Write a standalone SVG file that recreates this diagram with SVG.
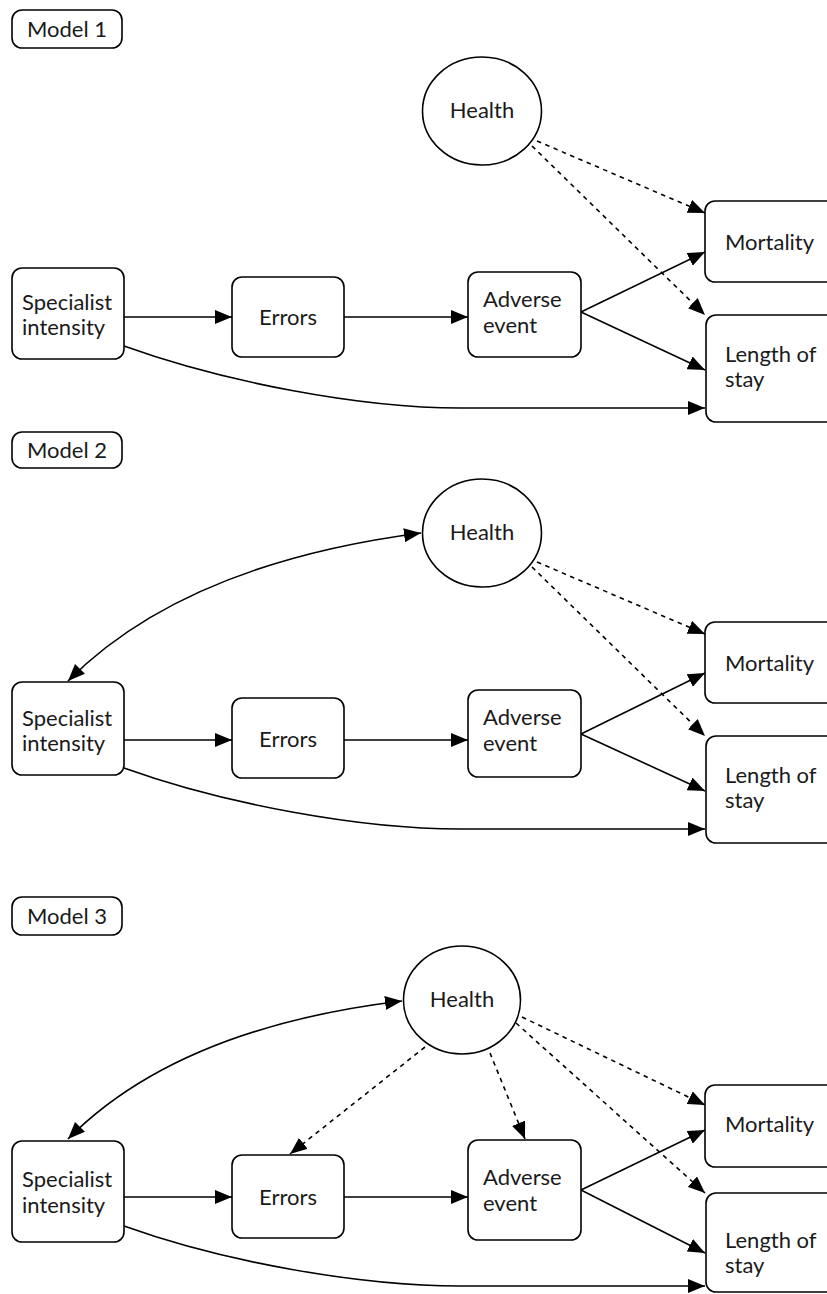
<svg xmlns="http://www.w3.org/2000/svg" width="827" height="1294" viewBox="0 0 827 1294">
<defs>
<style>
.node rect, .node ellipse { fill: #ffffff; stroke: #000000; stroke-width: 1.6; }
.node text, .label text { font-family: Lato, "Liberation Sans", sans-serif; font-size: 22px; fill: #1a1a1a; }
.mid { text-anchor: middle; }
.edge { fill: none; stroke: #000000; stroke-width: 1.6; }
.dash { stroke-dasharray: 4.5 4.5; }
.label rect { fill: #ffffff; stroke: #000000; stroke-width: 1.6; }
</style>
<marker id="arr" viewBox="0 0 17 14" refX="17" refY="7" markerWidth="17" markerHeight="14" markerUnits="userSpaceOnUse" orient="auto-start-reverse">
<path d="M0,0 L17,7 L0,14 Z" fill="#000000" stroke="none"/>
</marker>
</defs>

<!-- Model 1 -->
<g id="label-model1" class="label"><rect x="12" y="10" width="110" height="38" rx="10"/><text x="67" y="37" text-anchor="middle">Model 1</text></g>
<g id="connectors-m1">
<path class="edge" d="M124,317 L232,317" marker-end="url(#arr)"/>
<path class="edge" d="M344,317 L468,317" marker-end="url(#arr)"/>
<path class="edge" d="M581,312 L705,252" marker-end="url(#arr)"/>
<path class="edge" d="M581,312 L705,370" marker-end="url(#arr)"/>
<path class="edge" d="M124,346 C224,382 360,408 460,408 L705,408" marker-end="url(#arr)"/>
<path class="edge dash" d="M537,141 L705,213" marker-end="url(#arr)"/>
<path class="edge dash" d="M532,146 L705,315" marker-end="url(#arr)"/>
</g>
<g id="m1-health" class="node"><ellipse cx="482" cy="111" rx="59.5" ry="54"/><text class="mid" x="482" y="118">Health</text></g>
<g id="m1-specialist" class="node"><rect x="12" y="268" width="112" height="91" rx="10"/><text x="22" y="310">Specialist</text><text x="22" y="335">intensity</text></g>
<g id="m1-errors" class="node"><rect x="232" y="277" width="112" height="80" rx="10"/><text class="mid" x="288" y="325">Errors</text></g>
<g id="m1-adverse" class="node"><rect x="468" y="272" width="113" height="85" rx="10"/><text x="483" y="307">Adverse</text><text x="483" y="333">event</text></g>
<g id="m1-mortality" class="node"><rect x="705" y="201" width="140" height="81" rx="10"/><text x="725" y="250">Mortality</text></g>
<g id="m1-los" class="node"><rect x="706" y="315" width="140" height="107" rx="10"/><text x="725" y="362">Length of</text><text x="725" y="387">stay</text></g>

<!-- Model 2 -->
<g id="label-model2" class="label"><rect x="12" y="432" width="110" height="36" rx="10"/><text x="67" y="458" text-anchor="middle">Model 2</text></g>
<g id="connectors-m2">
<path class="edge" d="M421,533 Q184,564 68,681" marker-start="url(#arr)" marker-end="url(#arr)"/>
<path class="edge" d="M124,740 L232,740" marker-end="url(#arr)"/>
<path class="edge" d="M344,740 L468,740" marker-end="url(#arr)"/>
<path class="edge" d="M581,734 L705,673" marker-end="url(#arr)"/>
<path class="edge" d="M581,734 L705,791" marker-end="url(#arr)"/>
<path class="edge" d="M124,768 C224,804 360,829 460,829 L705,829" marker-end="url(#arr)"/>
<path class="edge dash" d="M537,562 L705,634" marker-end="url(#arr)"/>
<path class="edge dash" d="M532,567 L705,736" marker-end="url(#arr)"/>
</g>
<g id="m2-health" class="node"><ellipse cx="482" cy="533" rx="59.5" ry="54"/><text class="mid" x="482" y="540">Health</text></g>
<g id="m2-specialist" class="node"><rect x="12" y="682" width="112" height="93" rx="10"/><text x="22" y="726">Specialist</text><text x="22" y="751">intensity</text></g>
<g id="m2-errors" class="node"><rect x="232" y="698" width="112" height="80" rx="10"/><text class="mid" x="288" y="747">Errors</text></g>
<g id="m2-adverse" class="node"><rect x="468" y="690" width="113" height="87" rx="10"/><text x="483" y="725">Adverse</text><text x="483" y="751">event</text></g>
<g id="m2-mortality" class="node"><rect x="705" y="622" width="140" height="81" rx="10"/><text x="725" y="671">Mortality</text></g>
<g id="m2-los" class="node"><rect x="706" y="736" width="140" height="107" rx="10"/><text x="725" y="783">Length of</text><text x="725" y="808">stay</text></g>

<!-- Model 3 -->
<g id="label-model3" class="label"><rect x="12" y="897" width="110" height="38" rx="10"/><text x="67" y="924" text-anchor="middle">Model 3</text></g>
<g id="connectors-m3">
<path class="edge" d="M402,1001 Q178,1028 68,1139" marker-start="url(#arr)" marker-end="url(#arr)"/>
<path class="edge" d="M124,1197 L232,1197" marker-end="url(#arr)"/>
<path class="edge" d="M344,1197 L468,1197" marker-end="url(#arr)"/>
<path class="edge" d="M581,1190 L705,1130" marker-end="url(#arr)"/>
<path class="edge" d="M581,1190 L705,1253" marker-end="url(#arr)"/>
<path class="edge" d="M124,1226 C224,1262 360,1286 460,1286 L705,1286" marker-end="url(#arr)"/>
<path class="edge dash" d="M522,1017 L705,1105" marker-end="url(#arr)"/>
<path class="edge dash" d="M516,1023 L705,1193" marker-end="url(#arr)"/>
<path class="edge dash" d="M425,1047 L290,1154" marker-end="url(#arr)"/>
<path class="edge dash" d="M490,1053 L525,1139" marker-end="url(#arr)"/>
</g>
<g id="m3-health" class="node"><ellipse cx="462" cy="1000" rx="58.5" ry="54"/><text class="mid" x="462" y="1007">Health</text></g>
<g id="m3-specialist" class="node"><rect x="12" y="1141" width="112" height="101" rx="10"/><text x="22" y="1187">Specialist</text><text x="22" y="1213">intensity</text></g>
<g id="m3-errors" class="node"><rect x="232" y="1155" width="112" height="83" rx="10"/><text class="mid" x="288" y="1205">Errors</text></g>
<g id="m3-adverse" class="node"><rect x="468" y="1140" width="113" height="100" rx="10"/><text x="483" y="1185">Adverse</text><text x="483" y="1211">event</text></g>
<g id="m3-mortality" class="node"><rect x="705" y="1085" width="140" height="82" rx="10"/><text x="725" y="1132">Mortality</text></g>
<g id="m3-los" class="node"><rect x="706" y="1193" width="140" height="99" rx="10"/><text x="725" y="1248">Length of</text><text x="725" y="1273">stay</text></g>
</svg>
